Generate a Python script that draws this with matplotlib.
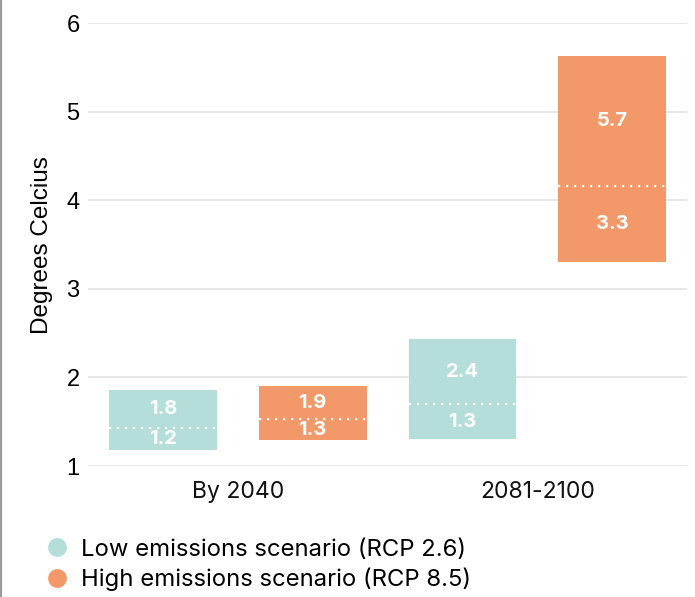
import matplotlib.pyplot as plt
from matplotlib.lines import Line2D

# ---- data ----
periods = ["By 2040", "2081-2100"]
scenarios = ["Low emissions scenario (RCP 2.6)", "High emissions scenario (RCP 8.5)"]
low_vals = [1.18, 1.29, 1.30, 3.30]     # bar bottoms (low, high, low, high)
mid_vals = [1.43, 1.53, 1.70, 4.16]     # dotted median line
high_vals = [1.86, 1.90, 2.43, 5.63]    # bar tops
top_labels = ["1.8", "1.9", "2.4", "5.7"]
bottom_labels = ["1.2", "1.3", "1.3", "3.3"]

TEAL = "#b5dedb"
ORANGE = "#f39869"
colors = [TEAL, ORANGE, TEAL, ORANGE]

MAIN_FONT = ["Inter", "DejaVu Sans"]
AXIS_FONT = ["Liberation Sans", "DejaVu Sans"]

fig = plt.figure(figsize=(6.95, 5.97), dpi=100)
ax = fig.add_axes([0.1266, 0.2194, 0.862, 0.7416])

xs = range(len(low_vals))
for i in xs:
    h = high_vals[i] - low_vals[i]
    ax.bar(i, h, bottom=low_vals[i], width=0.72, color=colors[i], zorder=3)
    ax.plot([i - 0.36, i + 0.36], [mid_vals[i], mid_vals[i]], color="white",
            lw=1.6, linestyle=(0, (1, 2.6)), zorder=4)
    ax.text(i, (high_vals[i] + mid_vals[i]) / 2, top_labels[i], ha="center", va="center",
            color="white", fontsize=14.5, fontweight="bold", family=MAIN_FONT, zorder=5)
    ax.text(i, (mid_vals[i] + low_vals[i]) / 2, bottom_labels[i], ha="center", va="center",
            color="white", fontsize=14.5, fontweight="bold", family=MAIN_FONT, zorder=5)

ax.set_xlim(-0.5, 3.5)
ax.set_ylim(1, 6)
ax.set_yticks([1, 2, 3, 4, 5, 6])
ax.set_xticks([0.5, 2.5])
ax.set_xticklabels(periods, family=MAIN_FONT, fontsize=16.5, color="#111111")
for lab in ax.get_yticklabels():
    lab.set_family(AXIS_FONT)
    lab.set_fontsize(17)
ax.tick_params(axis="both", length=0)
ax.tick_params(axis="y", pad=6)
ax.tick_params(axis="x", pad=11)
ax.set_ylabel("Degrees Celcius", family=AXIS_FONT, fontsize=17.5, labelpad=10)
ax.yaxis.grid(True, color="#e8e8e8", lw=1.5, zorder=0)
ax.set_axisbelow(True)
for s in ax.spines.values():
    s.set_visible(False)

# left border of the figure
fig.add_artist(Line2D([0.002, 0.002], [0, 1], transform=fig.transFigure,
                      color="#999999", lw=1.5))

handles = [Line2D([], [], marker="o", linestyle="none", markersize=12.5,
                  markerfacecolor=c, markeredgecolor=c) for c in [TEAL, ORANGE]]
fig.legend(handles, scenarios, loc="center left", bbox_to_anchor=(0.065, 0.0536),
           frameon=False, prop={"family": MAIN_FONT, "size": 17.2},
           handlelength=1.0, handletextpad=0.5, labelspacing=0.3,
           borderaxespad=0, borderpad=0)

fig.savefig("out.png", dpi=100)
